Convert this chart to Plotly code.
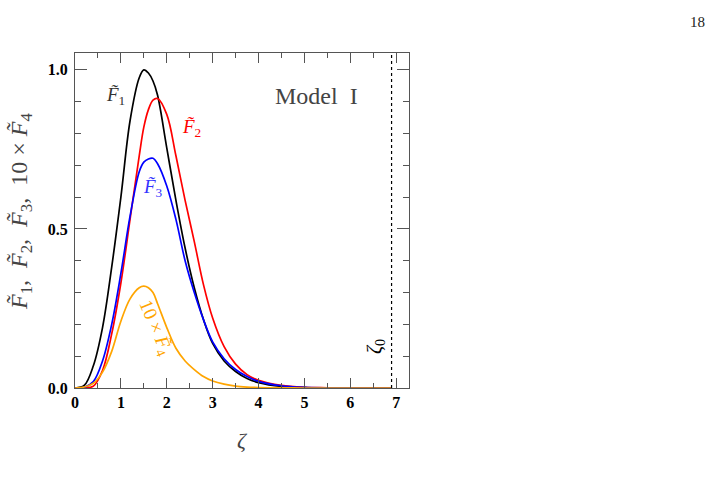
import plotly.graph_objects as go

zeta = [0.0, 0.2, 0.4, 0.6, 0.8, 1.0, 1.2, 1.4, 1.5, 1.6, 1.7, 1.8, 2.0, 2.2, 2.4, 2.6, 2.8, 3.0,
        3.25, 3.5, 3.75, 4.0, 4.5, 5.0, 5.5, 6.0, 6.9]
F1 = [0.0, 0.008, 0.07, 0.19, 0.38, 0.60, 0.84, 0.975, 1.0, 0.99, 0.965, 0.92, 0.755, 0.59, 0.44,
      0.315, 0.215, 0.14, 0.085, 0.052, 0.03, 0.017, 0.005, 0.0015, 0.0005, 0.0001, 0.0]
F2 = [0.0, 0.0, 0.006, 0.055, 0.17, 0.33, 0.53, 0.73, 0.82, 0.875, 0.905, 0.91, 0.86, 0.73, 0.59,
      0.46, 0.325, 0.22, 0.13, 0.075, 0.042, 0.024, 0.008, 0.002, 0.0007, 0.0002, 0.0]
F3 = [0.0, 0.002, 0.02, 0.085, 0.20, 0.36, 0.54, 0.68, 0.71, 0.72, 0.722, 0.705, 0.635, 0.53, 0.40,
      0.30, 0.215, 0.145, 0.092, 0.058, 0.036, 0.021, 0.007, 0.002, 0.0006, 0.0002, 0.0]
F4x10 = [0.0, 0.003, 0.015, 0.05, 0.115, 0.21, 0.28, 0.315, 0.32, 0.315, 0.30, 0.265, 0.19, 0.125,
         0.085, 0.058, 0.036, 0.022, 0.012, 0.006, 0.003, 0.0015, 0.0003, 0.0, 0.0, 0.0, 0.0]
zeta0 = 6.9
x_ticks = [0, 1, 2, 3, 4, 5, 6, 7]
y_ticks = [0.0, 0.5, 1.0]
y_ticklabels = ["0.0", "0.5", "1.0"]

SERIF = "Liberation Serif, DejaVu Serif, serif"

fig = go.Figure()
for y, col in [(F1, "black"), (F2, "#ff0000"), (F3, "#0000ff"), (F4x10, "#ffa500")]:
    fig.add_trace(go.Scatter(x=zeta, y=y, mode="lines",
                             line=dict(color=col, width=1.7, shape="spline", smoothing=1.0),
                             showlegend=False, hoverinfo="skip"))

fig.add_shape(type="line", x0=zeta0, x1=zeta0, y0=0, y1=1, yref="paper", xref="x",
              line=dict(color="black", width=1.2, dash="dot"))

axis_common = dict(showline=True, linecolor="#555555", linewidth=1.2, mirror="allticks",
                   ticks="inside", tickcolor="#555555", tickwidth=1.2, showgrid=False,
                   zeroline=False, tickfont=dict(family=SERIF, size=16, color="black"))

fig.update_xaxes(range=[0, 7.28], tickvals=x_ticks, ticklen=10,
                 ticktext=["<b>%d</b>" % v for v in x_ticks],
                 minor=dict(ticks="inside", ticklen=5, dtick=0.5, tickcolor="#555555", tickwidth=1.2),
                 **axis_common)
fig.update_yaxes(range=[0, 1.053], tickvals=y_ticks, ticklen=12, ticklabelstandoff=3,
                 ticktext=["<b>%s</b>" % t for t in y_ticklabels],
                 minor=dict(ticks="inside", ticklen=6, dtick=0.1, tickcolor="#555555", tickwidth=1.2),
                 **axis_common)

ann = []
def A(x, y, text, color, size, angle=0):
    ann.append(dict(x=x, y=y, xref="paper", yref="paper", text=text, showarrow=False,
                    font=dict(family=SERIF, size=size, color=color), textangle=angle,
                    xanchor="center", yanchor="middle"))

W, H = 722, 478
L, R, T, B = 75, 409, 53, 388
def px(xp, yp):
    return (xp - L) / (R - L), (B - yp) / (B - T)

A(*px(115, 96), "<i>F̃</i><sub>1</sub>", "#333333", 19)
A(*px(191, 128), "<i>F̃</i><sub>2</sub>", "#ff0000", 19)
A(*px(153, 188), "<i>F̃</i><sub>3</sub>", "#3333ff", 19)
A(*px(155, 328), "10 × <i>F̃</i><sub>4</sub>", "#ffa500", 19, 67)
A(*px(316, 96), "Model  I", "#444444", 24)
A(*px(375, 347), "<i>ζ</i><sub>0</sub>", "black", 20, -90)
A(*px(242, 440), "<i>ζ</i>", "#444444", 22)
A(*px(21, 212), "<i>F̃</i><sub>1</sub>,  <i>F̃</i><sub>2</sub>,  <i>F̃</i><sub>3</sub>,  10 × <i>F̃</i><sub>4</sub>",
  "#444444", 24, -90)
A(*px(697, 22), "18", "#222222", 15)

fig.update_layout(width=W, height=H, margin=dict(l=L, r=W - R, t=T, b=H - B),
                  paper_bgcolor="white", plot_bgcolor="white", annotations=ann)
fig.write_html("out.html")
